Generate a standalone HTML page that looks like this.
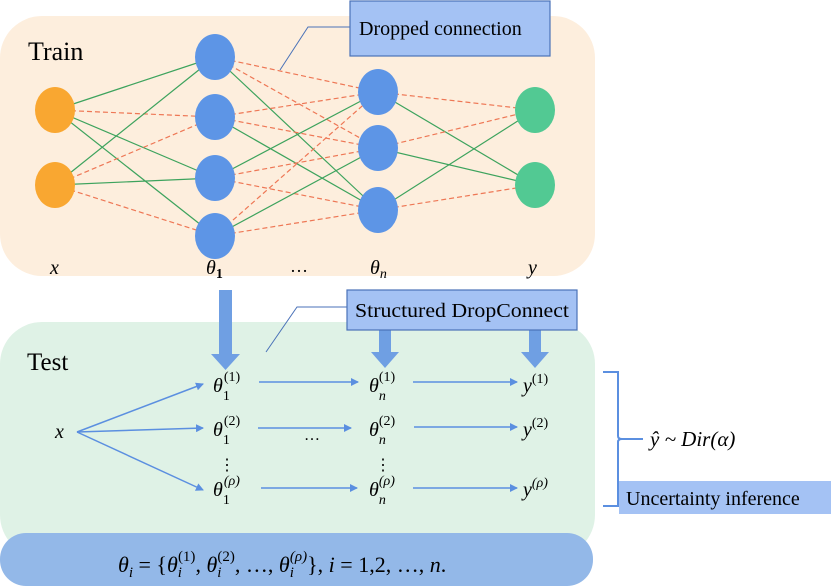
<!DOCTYPE html>
<html><head><meta charset="utf-8"><style>
html,body{margin:0;padding:0;background:#fff;}
svg{display:block;font-family:"Liberation Serif","Times New Roman",serif;}
.m{font-style:italic;}
</style></head><body>
<svg width="831" height="586" viewBox="0 0 831 586" xmlns="http://www.w3.org/2000/svg" font-family="Liberation Serif, serif">
<defs>
<marker id="ah" markerWidth="8" markerHeight="8" refX="7" refY="4" orient="auto" markerUnits="userSpaceOnUse"><path d="M0,0 L8,4 L0,8 Z" fill="#5b8fe0"/></marker>
</defs>
<rect x="0" y="16" width="595" height="260" rx="42" fill="#fdeedd"/>
<text x="28" y="60" font-size="26" font-family="Liberation Serif, serif">Train</text>
<g stroke-width="1.2">
<line x1="55" y1="110" x2="215" y2="57" stroke="#3da35d"/>
<line x1="55" y1="110" x2="215" y2="117" stroke="#ee7755" stroke-dasharray="5,3"/>
<line x1="55" y1="110" x2="215" y2="178" stroke="#3da35d"/>
<line x1="55" y1="110" x2="215" y2="236" stroke="#3da35d"/>
<line x1="55" y1="185" x2="215" y2="57" stroke="#3da35d"/>
<line x1="55" y1="185" x2="215" y2="117" stroke="#ee7755" stroke-dasharray="5,3"/>
<line x1="55" y1="185" x2="215" y2="178" stroke="#3da35d"/>
<line x1="55" y1="185" x2="215" y2="236" stroke="#ee7755" stroke-dasharray="5,3"/>
<line x1="215" y1="57" x2="378" y2="92" stroke="#ee7755" stroke-dasharray="5,3"/>
<line x1="215" y1="57" x2="378" y2="148" stroke="#ee7755" stroke-dasharray="5,3"/>
<line x1="215" y1="57" x2="378" y2="210" stroke="#3da35d"/>
<line x1="215" y1="117" x2="378" y2="92" stroke="#ee7755" stroke-dasharray="5,3"/>
<line x1="215" y1="117" x2="378" y2="148" stroke="#ee7755" stroke-dasharray="5,3"/>
<line x1="215" y1="117" x2="378" y2="210" stroke="#3da35d"/>
<line x1="215" y1="178" x2="378" y2="92" stroke="#3da35d"/>
<line x1="215" y1="178" x2="378" y2="148" stroke="#ee7755" stroke-dasharray="5,3"/>
<line x1="215" y1="178" x2="378" y2="210" stroke="#ee7755" stroke-dasharray="5,3"/>
<line x1="215" y1="236" x2="378" y2="92" stroke="#ee7755" stroke-dasharray="5,3"/>
<line x1="215" y1="236" x2="378" y2="148" stroke="#3da35d"/>
<line x1="215" y1="236" x2="378" y2="210" stroke="#ee7755" stroke-dasharray="5,3"/>
<line x1="378" y1="92" x2="535" y2="110" stroke="#ee7755" stroke-dasharray="5,3"/>
<line x1="378" y1="92" x2="535" y2="185" stroke="#3da35d"/>
<line x1="378" y1="148" x2="535" y2="110" stroke="#ee7755" stroke-dasharray="5,3"/>
<line x1="378" y1="148" x2="535" y2="185" stroke="#3da35d"/>
<line x1="378" y1="210" x2="535" y2="110" stroke="#3da35d"/>
<line x1="378" y1="210" x2="535" y2="185" stroke="#ee7755" stroke-dasharray="5,3"/>
</g>
<g fill="#f9a731"><ellipse cx="55" cy="110" rx="20" ry="23"/><ellipse cx="55" cy="185" rx="20" ry="23"/></g>
<g fill="#5d95e6">
<ellipse cx="215" cy="57" rx="20" ry="23"/><ellipse cx="215" cy="117" rx="20" ry="23"/>
<ellipse cx="215" cy="178" rx="20" ry="23"/><ellipse cx="215" cy="236" rx="20" ry="23"/>
<ellipse cx="378" cy="92" rx="20" ry="23"/><ellipse cx="378" cy="148" rx="20" ry="23"/>
<ellipse cx="378" cy="210" rx="20" ry="23"/>
</g>
<g fill="#52c993"><ellipse cx="535" cy="110" rx="20" ry="23"/><ellipse cx="535" cy="185" rx="20" ry="23"/></g>
<text x="50" y="274" font-size="20" class="m">x</text>
<text x="206" y="274" font-size="20" class="m">θ<tspan font-size="14" dy="4" font-style="normal" font-weight="bold">1</tspan></text>
<text x="290" y="272" font-size="18">…</text>
<text x="370" y="274" font-size="20" class="m">θ<tspan font-size="14" dy="4">n</tspan></text>
<text x="528" y="274" font-size="20" class="m">y</text>
<polyline points="350,27 308,27 280,70" fill="none" stroke="#4a72b8" stroke-width="1"/>
<rect x="350" y="1" width="200" height="55" fill="#a4c2f4" stroke="#4a72b8" stroke-width="1.2"/>
<text x="359" y="35" font-size="20" font-family="Liberation Serif, serif">Dropped connection</text>

<rect x="0" y="322" width="595" height="235" rx="42" fill="#dff2e6"/>
<rect x="0" y="533" width="593" height="53" rx="26" fill="#93b8e8"/>
<text x="27" y="370" font-size="25" font-family="Liberation Serif, serif">Test</text>
<g fill="#6f9fe3">
<rect x="219" y="290" width="13" height="64"/><path d="M211,354 L240,354 L225.5,370 Z"/>
<rect x="379" y="330" width="12" height="24"/><path d="M371,352 L399,352 L385,368 Z"/>
<rect x="529" y="330" width="12" height="24"/><path d="M521,352 L549,352 L535,368 Z"/>
</g>
<polyline points="347,307 297,307 266,352" fill="none" stroke="#4a72b8" stroke-width="1"/>
<rect x="347" y="290" width="230" height="40" fill="#a4c2f4" stroke="#4a72b8" stroke-width="1.2"/>
<text x="355" y="317" font-size="20" font-family="Liberation Serif, serif" textLength="214" lengthAdjust="spacingAndGlyphs">Structured DropConnect</text>
<g stroke="#5b8fe0" stroke-width="1.5" marker-end="url(#ah)">
<line x1="77" y1="432" x2="203" y2="384"/>
<line x1="77" y1="432" x2="203" y2="428"/>
<line x1="77" y1="432" x2="203" y2="490"/>
<line x1="259" y1="382" x2="358" y2="382"/>
<line x1="258" y1="428" x2="351" y2="428"/>
<line x1="261" y1="488" x2="357" y2="488"/>
<line x1="413" y1="382" x2="517" y2="382"/>
<line x1="414" y1="427" x2="517" y2="427"/>
<line x1="413" y1="488" x2="517" y2="488"/>
</g>
<text x="55" y="438" font-size="20" class="m">x</text>
<g font-size="20" class="m">
<text x="213" y="392">θ<tspan font-size="14" dy="8" font-style="normal">1</tspan><tspan font-size="14" dx="-6" dy="-19" font-style="normal">(1)</tspan></text>
<text x="213" y="436">θ<tspan font-size="14" dy="8" font-style="normal">1</tspan><tspan font-size="14" dx="-6" dy="-19" font-style="normal">(2)</tspan></text>
<text x="213" y="496">θ<tspan font-size="14" dy="8" font-style="normal">1</tspan><tspan font-size="14" dx="-6" dy="-19">(ρ)</tspan></text>
<text x="369" y="392">θ<tspan font-size="14" dy="8">n</tspan><tspan font-size="14" dx="-7" dy="-19" font-style="normal">(1)</tspan></text>
<text x="369" y="436">θ<tspan font-size="14" dy="8">n</tspan><tspan font-size="14" dx="-7" dy="-19" font-style="normal">(2)</tspan></text>
<text x="369" y="496">θ<tspan font-size="14" dy="8">n</tspan><tspan font-size="14" dx="-7" dy="-19">(ρ)</tspan></text>
<text x="523" y="392">y<tspan font-size="14" dy="-9" font-style="normal">(1)</tspan></text>
<text x="523" y="436">y<tspan font-size="14" dy="-9" font-style="normal">(2)</tspan></text>
<text x="523" y="496">y<tspan font-size="14" dy="-9">(ρ)</tspan></text>
</g>
<text x="304" y="440" font-size="16">…</text>
<text x="219" y="470" font-size="16">⋮</text>
<text x="375" y="470" font-size="16">⋮</text>
<path d="M603,372 L618,372 L618,436 Q618,439 622,439 L643,439 M622,439 Q618,439 618,442 L618,506 L603,506" fill="none" stroke="#5b8fe0" stroke-width="2"/>
<text x="650" y="446" font-size="21" class="m">ŷ ~ Dir(α)</text>
<rect x="619" y="481" width="212" height="33" fill="#a4c2f4"/>
<text x="626" y="505" font-size="20" font-family="Liberation Serif, serif">Uncertainty inference</text>
<text x="118" y="572" font-size="22" class="m">θ<tspan font-size="15" dy="5">i</tspan><tspan dy="-5" font-style="normal"> = {</tspan>θ<tspan font-size="15" dy="5">i</tspan><tspan font-size="15" dx="-4" dy="-16" font-style="normal">(1)</tspan><tspan dy="11" font-style="normal">, </tspan>θ<tspan font-size="15" dy="5">i</tspan><tspan font-size="15" dx="-4" dy="-16" font-style="normal">(2)</tspan><tspan dy="11" font-style="normal">, …, </tspan>θ<tspan font-size="15" dy="5">i</tspan><tspan font-size="15" dx="-4" dy="-16">(ρ)</tspan><tspan dy="11" font-style="normal">}, </tspan>i<tspan font-style="normal"> = 1,2, …, </tspan>n<tspan font-style="normal">.</tspan></text>
</svg>
</body></html>
